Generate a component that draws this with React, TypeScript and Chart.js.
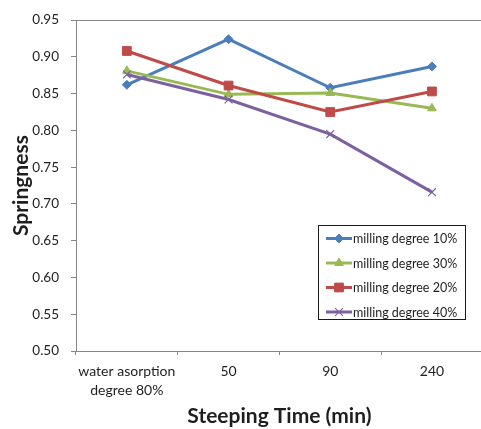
import React, { useEffect, useRef } from 'react';
import { Chart, registerables } from 'chart.js';
import { drawPoint } from 'chart.js/helpers';

Chart.register(...registerables);

const categories: (string | string[])[] = [['water asorption', 'degree 80%'], '50', '90', '240'];
const seriesLabels = ['milling degree 10%', 'milling degree 30%', 'milling degree 20%', 'milling degree 40%'];
const mill10 = [0.862, 0.924, 0.858, 0.887];
const mill30 = [0.881, 0.849, 0.851, 0.830];
const mill20 = [0.908, 0.861, 0.825, 0.853];
const mill40 = [0.876, 0.842, 0.795, 0.716];
const yMin = 0.5;
const yMax = 0.95;
const yStep = 0.05;
const xTitle = 'Steeping Time (min)';
const yTitle = 'Springness';

const FONT = 'Lato, "Open Sans", sans-serif';
const AXIS_GRAY = '#868686';
const TEXT = '#1e1e1e';

const frameAndLegend = {
  id: 'frameAndLegend',
  afterDraw(chart: any) {
    const { ctx, chartArea } = chart;
    ctx.save();
    // top frame line
    ctx.strokeStyle = AXIS_GRAY;
    ctx.lineWidth = 1;
    ctx.beginPath();
    ctx.moveTo(chartArea.left, Math.round(chartArea.top) + 0.5);
    ctx.lineTo(chartArea.right, Math.round(chartArea.top) + 0.5);
    ctx.stroke();

    // legend box
    const bx = 318.5, by = 225.5, bw = 147, bh = 94;
    ctx.fillStyle = '#fff';
    ctx.fillRect(bx, by, bw, bh);
    ctx.strokeStyle = '#1a1a1a';
    ctx.lineWidth = 1;
    ctx.strokeRect(bx, by, bw, bh);

    chart.data.datasets.forEach((ds: any, i: number) => {
      const y = 238.5 + i * 24.5;
      ctx.strokeStyle = ds.borderColor;
      ctx.lineWidth = 3;
      ctx.beginPath();
      ctx.moveTo(326, y);
      ctx.lineTo(352, y);
      ctx.stroke();
      ctx.fillStyle = ds.pointBackgroundColor;
      ctx.strokeStyle = ds.pointBorderColor;
      ctx.lineWidth = ds.pointBorderWidth;
      drawPoint(ctx, { pointStyle: ds.pointStyle, radius: ds.pointRadius, rotation: 0, borderWidth: ds.pointBorderWidth }, 339, y);
      ctx.fillStyle = TEXT;
      ctx.font = `12.5px ${FONT}`;
      ctx.textAlign = 'left';
      ctx.textBaseline = 'middle';
      ctx.fillText(ds.label, 353, y + 0.5);
    });
    ctx.restore();
  },
};

export default function App() {
  const ref = useRef<HTMLCanvasElement | null>(null);

  useEffect(() => {
    if (!ref.current) return;
    const mk = (label: string, data: number[], color: string, style: string, radius: number, bw: number, order: number) => ({
      label,
      data,
      borderColor: color,
      backgroundColor: color,
      borderWidth: 3,
      pointStyle: style,
      pointRadius: radius,
      pointBackgroundColor: color,
      pointBorderColor: color,
      pointBorderWidth: bw,
      tension: 0,
      order,
    });
    const chart = new Chart(ref.current, {
      type: 'line',
      data: {
        labels: categories,
        datasets: [
          mk(seriesLabels[0], mill10, '#4A7EBB', 'rectRot', 4.5, 1, 3),
          mk(seriesLabels[1], mill30, '#98B954', 'triangle', 5, 1, 2),
          mk(seriesLabels[2], mill20, '#BE4B48', 'rect', 6.2, 1, 1),
          mk(seriesLabels[3], mill40, '#7D60A0', 'crossRot', 5.5, 1.2, 0),
        ] as any,
      },
      options: {
        animation: false,
        responsive: false,
        maintainAspectRatio: false,
        layout: { padding: { left: 0, right: 6, top: 17, bottom: 0 } },
        plugins: { legend: { display: false }, tooltip: { enabled: false } },
        scales: {
          x: {
            type: 'category',
            offset: true,
            afterFit: (s: any) => { s.height = 78; },
            grid: { display: true, drawOnChartArea: false, drawTicks: true, tickLength: 4, offset: true, color: AXIS_GRAY },
            border: { display: true, color: AXIS_GRAY, width: 1 },
            ticks: { color: TEXT, font: { family: FONT, size: 14, lineHeight: 1.36 }, padding: 7, maxRotation: 0, autoSkip: false },
            title: { display: true, text: xTitle, color: TEXT, font: { family: FONT, size: 21, weight: 'bold', lineHeight: 1.2 }, padding: { top: 0, bottom: 0 } },
          },
          y: {
            min: yMin,
            max: yMax,
            afterFit: (s: any) => { s.width = 76; },
            grid: { display: true, drawOnChartArea: false, drawTicks: true, tickLength: 5, color: AXIS_GRAY },
            border: { display: true, color: AXIS_GRAY, width: 1 },
            ticks: { stepSize: yStep, color: TEXT, font: { family: FONT, size: 13.5 }, padding: 12, callback: (v: any) => Number(v).toFixed(2) },
            title: { display: true, text: yTitle, color: TEXT, font: { family: FONT, size: 21, weight: 'bold', lineHeight: 1.2 }, padding: { top: 9, bottom: 0 } },
          },
        },
      } as any,
      plugins: [frameAndLegend],
    });
    return () => chart.destroy();
  }, []);

  return (
    <div style={{ position: 'fixed', left: 0, top: 0, width: 481, height: 429, overflow: 'hidden', background: '#fff' }}>
      <canvas ref={ref} width={490} height={429} style={{ width: 490, height: 429, display: 'block' }} />
    </div>
  );
}
